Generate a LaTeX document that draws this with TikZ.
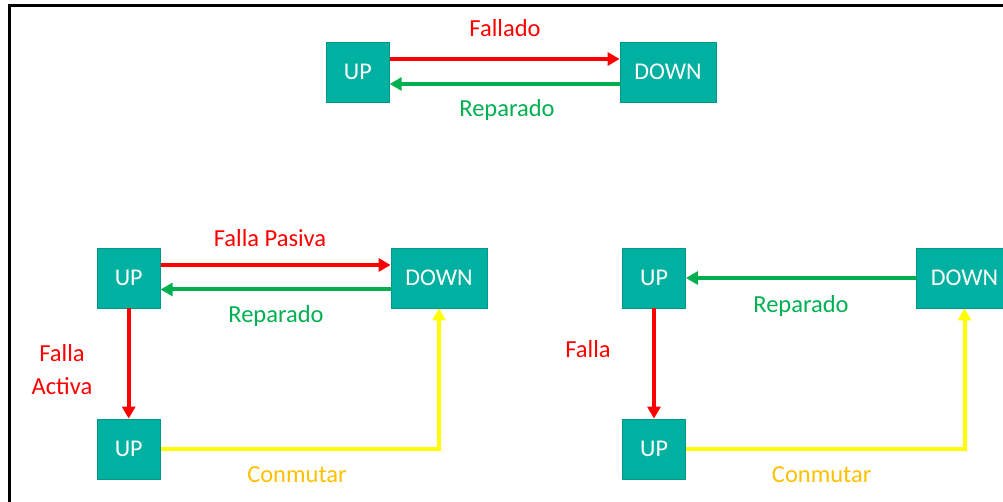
\documentclass[tikz,border=0pt]{standalone}
\usepackage{fontspec}
\setmainfont{Carlito}
\usetikzlibrary{arrows.meta}
\definecolor{boxteal}{RGB}{0,176,160}
\definecolor{boxedge}{RGB}{0,150,136}
\definecolor{arrred}{RGB}{255,0,0}
\definecolor{arrgreen}{RGB}{0,176,80}
\definecolor{arryellow}{RGB}{255,255,0}
\definecolor{txtgold}{RGB}{255,192,0}
\tikzset{
  state/.style={draw=boxedge, line width=0.8pt, fill=boxteal, text=white, minimum height=60pt, inner sep=0pt, font=\fontsize{24}{28}\selectfont},
  upbox/.style={state, minimum width=63pt},
  downbox/.style={state, minimum width=96pt},
  conn/.style={line width=4pt, -{Triangle[length=12pt,width=13pt]}},
  lbl/.style={anchor=base, inner sep=0pt, font=\fontsize{24.5}{33.5}\selectfont},
}
\begin{document}
\begin{tikzpicture}[x=1pt,y=-1pt]
\useasboundingbox (0,0) rectangle (1003,502);
\draw[line width=3pt] (9,502) -- (9,6) -- (1003,6);
% top
\node[upbox] (u0) at (357.8,72) {UP};
\node[downbox] (d0) at (668,72) {DOWN};
\draw[conn, arrred] (u0.east |- 0,59) -- (d0.west |- 0,59);
\draw[conn, arrgreen] (d0.west |- 0,84) -- (u0.east |- 0,84);
\node[lbl, text=arrred] (t0) at (505,37) {Fallado};
\node[lbl, text=arrgreen] (t1) at (507,117) {Reparado};
% bottom left
\node[upbox] (u1) at (128.7,278) {UP};
\node[downbox] (d1) at (439,278) {DOWN};
\node[upbox] (u2) at (128.7,449) {UP};
\draw[conn, arrred] (u1.east |- 0,265) -- (d1.west |- 0,265);
\draw[conn, arrgreen] (d1.west |- 0,289.5) -- (u1.east |- 0,289.5);
\draw[conn, arrred] (u1.south) -- (u2.north);
\coordinate (c1) at (439,449);
\draw[conn, arryellow] (u2.east) -- (c1) -- (d1.south);
\node[lbl, text=arrred] (t2) at (270,246.7) {Falla Pasiva};
\node[lbl, text=arrgreen] (t3) at (276,322.3) {Reparado};
\node[lbl, text=txtgold] (t4) at (297,482.3) {Conmutar};
\node[lbl, text=arrred, align=center, anchor=north] (t5) at (62,344) {Falla\\Activa};
% bottom right
\node[upbox] (u3) at (654,278) {UP};
\node[downbox] (d3) at (964.5,278) {DOWN};
\node[upbox] (u4) at (654,449) {UP};
\draw[conn, arrgreen] (d3.west) -- (u3.east);
\draw[conn, arrred] (u3.south) -- (u4.north);
\coordinate (c3) at (964.5,449);
\draw[conn, arryellow] (u4.east) -- (c3) -- (d3.south);
\node[lbl, text=arrgreen] (t6) at (801,312.3) {Reparado};
\node[lbl, text=txtgold] (t7) at (821.7,482.3) {Conmutar};
\node[lbl, text=arrred] (t8) at (588,357.7) {Falla};
\end{tikzpicture}
\end{document}
